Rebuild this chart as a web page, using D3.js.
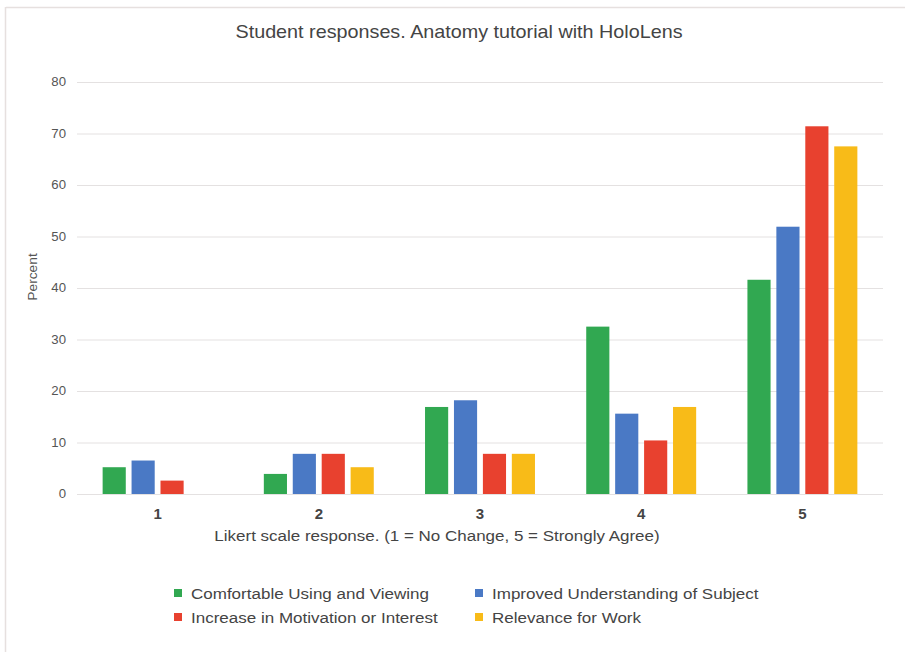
<!DOCTYPE html>
<html><head><meta charset="utf-8">
<script src="https://cdn.jsdelivr.net/npm/d3@7"></script>
<style>body{margin:0;background:#fff;} svg{display:block;font-family:"Liberation Sans",Arial,sans-serif;}</style>
</head><body>
<script>
const categories = ["1","2","3","4","5"];
const seriesNames = ["Comfortable Using and Viewing","Improved Understanding of Subject","Increase in Motivation or Interest","Relevance for Work"];
const comfortable = [5.2, 3.9, 16.9, 32.5, 41.6];
const understanding = [6.5, 7.8, 18.2, 15.6, 51.9];
const motivation = [2.6, 7.8, 7.8, 10.4, 71.4];
const relevance = [0, 5.2, 7.8, 16.9, 67.5];
const yTicks = [0,10,20,30,40,50,60,70,80];
const colors = ["#31a851","#4a79c5","#e8412f","#f8bb18"];
const seriesValues = [comfortable, understanding, motivation, relevance];

const W = 905, H = 652;
const svg = d3.select("body").append("svg").attr("width", W).attr("height", H);
svg.append("rect").attr("width", W).attr("height", H).attr("fill", "#fff");
// frame lines
svg.append("line").attr("x1",6).attr("x2",W).attr("y1",7.5).attr("y2",7.5).attr("stroke","#e6e0df").attr("stroke-width",1.5);
svg.append("line").attr("x1",5.5).attr("x2",5.5).attr("y1",7).attr("y2",H).attr("stroke","#e6e0df").attr("stroke-width",1.5);

function stretch(sel, f) {
  sel.each(function() {
    const w = this.getComputedTextLength();
    d3.select(this).attr("textLength", w * f).attr("lengthAdjust", "spacingAndGlyphs");
  });
}

const plotL = 77, plotR = 883, plotT = 82, plotB = 494;
const y = d3.scaleLinear().domain([0,80]).range([plotB, plotT]);
const x0 = d3.scaleBand().domain(categories).range([plotL, plotR]).paddingInner(0.318).paddingOuter(0.159);
const x1 = d3.scaleBand().domain(d3.range(4)).range([0, x0.bandwidth()]).paddingInner(0.2);

// grid
const yAxis = d3.axisLeft(y).tickValues(yTicks).tickSize(-(plotR-plotL)).tickPadding(11);
const gy = svg.append("g").attr("transform",`translate(${plotL},0)`).call(yAxis);
gy.select(".domain").remove();
gy.selectAll(".tick line").attr("stroke","#e4e1e1").attr("stroke-width",1);
gy.selectAll(".tick text").attr("fill","#555").attr("font-size",12).call(stretch, 1.1);

// bars
const groups = svg.append("g").selectAll("g").data(categories).join("g")
  .attr("transform", d => `translate(${x0(d)},0)`);
groups.selectAll("rect").data((c,i) => seriesValues.map((s,k) => ({k, v: s[i]})))
  .join("rect")
  .attr("x", d => x1(d.k)).attr("width", x1.bandwidth())
  .attr("y", d => y(d.v)).attr("height", d => y(0) - y(d.v))
  .attr("fill", d => colors[d.k]);

// x axis labels
const xAxis = d3.axisBottom(x0).tickSize(0).tickPadding(14);
const gx = svg.append("g").attr("transform",`translate(0,${plotB})`).call(xAxis);
gx.select(".domain").remove();
gx.selectAll(".tick text").attr("fill","#444").attr("font-size",15).attr("font-weight","bold");

// titles
svg.append("text").attr("x",459).attr("y",38).attr("text-anchor","middle").attr("font-size",19).attr("fill","#444")
  .text("Student responses. Anatomy tutorial with HoloLens").call(stretch, 1.04);
svg.append("text").attr("x",437).attr("y",541).attr("text-anchor","middle").attr("font-size",15.5).attr("fill","#444")
  .text("Likert scale response. (1 = No Change, 5 = Strongly Agree)").call(stretch, 1.095);
svg.append("text").attr("transform","translate(37,277) rotate(-90)").attr("text-anchor","middle").attr("font-size",12.5).attr("fill","#555")
  .text("Percent").call(stretch, 1.1);

// legend
const legPos = [[174,593],[475,593],[174,617],[475,617]];
seriesNames.forEach((n,i) => {
  const [lx, ly] = legPos[i];
  svg.append("rect").attr("x",lx).attr("y",ly-4).attr("width",8).attr("height",8).attr("fill",colors[i]);
  svg.append("text").attr("x",lx+17).attr("y",ly+5.5).attr("font-size",15.5).attr("fill","#444").text(n).call(stretch, 1.097);
});
</script>
</body></html>
